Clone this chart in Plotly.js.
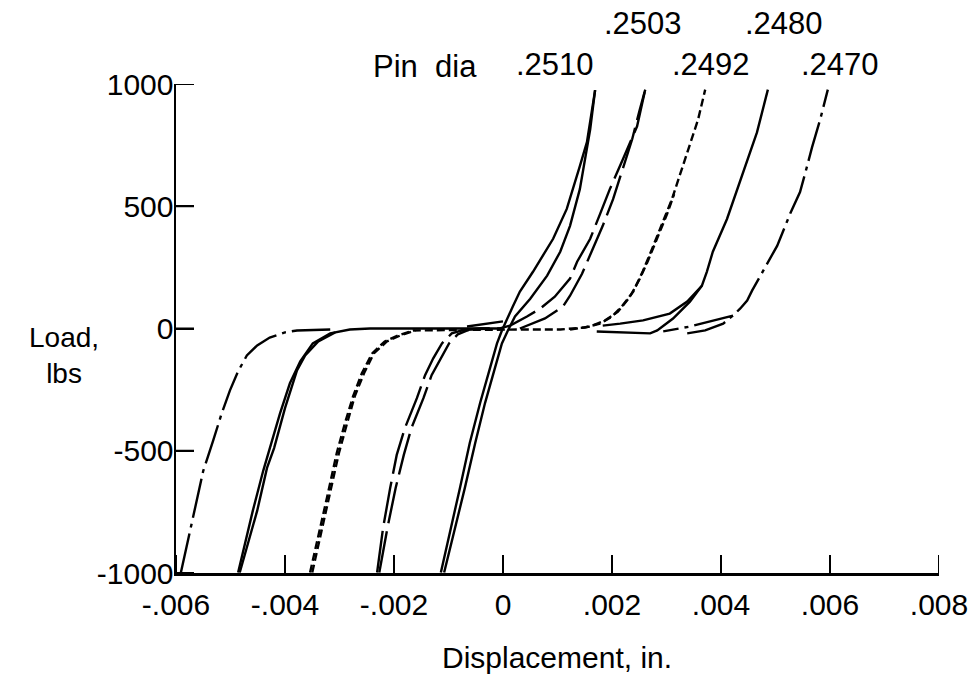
<!DOCTYPE html>
<html>
<head>
<meta charset="utf-8">
<script src="https://cdn.plot.ly/plotly-3.0.1.min.js"></script>
<style>
  html, body { margin: 0; padding: 0; background: #fff; }
  #chart { width: 975px; height: 675px; }
</style>
</head>
<body>
<div id="chart"></div>
<script>
// ---- Data (displacement in inches, load in lbs) ----
const pinDiameters = [".2510", ".2503", ".2492", ".2480", ".2470"];
const xTickVals = [-0.006, -0.004, -0.002, 0, 0.002, 0.004, 0.006, 0.008];
const xTickText = ["-.006", "-.004", "-.002", "0", ".002", ".004", ".006", ".008"];
const yTickVals = [-1000, -500, 0, 500, 1000];
const yTickText = ["-1000", "-500", "0", "500", "1000"];

// Pin .2510 (solid)
const p2510_a_x = [-0.00114,-0.00097,-0.00079,-0.00061,-0.00042,-0.00024,-0.00011,-0.00002,0.00007,0.00018,0.00031,0.00055,0.00092,0.00117,0.00141,0.00154,0.00169];
const p2510_a_y = [-998,-835,-652,-468,-305,-163,-61,-8,33,90,151,232,367,489,664,762,975];
const p2510_b_x = [-0.00108,-0.00090,-0.00070,-0.00051,-0.00033,-0.00015,-0.00002,0.00009,0.00022,0.00050,0.00081,0.00105,0.00123,0.00141,0.00150,0.00160,0.00169,null,-0.00066,0];
const p2510_b_y = [-998,-835,-652,-468,-305,-163,-61,-8,49,122,216,314,420,570,692,815,975,null,8,29];

// Pin .2503 (long dash)
const p2503_a_x = [-0.00231,-0.00220,-0.00207,-0.00195,-0.00180,-0.00158,-0.00143,-0.00128,-0.00112,-0.00094,-0.00070,-0.00042,-0.00006,0.00013,0.00044,0.00068,0.00095,0.00123,0.00136,0.00160,0.00178,0.00196,0.00220,0.00246,0.00261];
const p2503_a_y = [-998,-815,-652,-517,-407,-285,-191,-122,-61,-20,-4,0,0,12,49,81,130,204,273,367,468,570,692,827,977];
const p2503_b_x = [-0.00227,-0.00212,-0.00197,-0.00182,-0.00168,-0.00146,-0.00131,-0.00114,-0.00099,-0.00083,-0.00061,-0.00024,null,0.00031,0.00077,0.00110,0.00123,0.00145,0.00165,0.00183,0.00202,0.00224,0.00237,0.00251,0.00261];
const p2503_b_y = [-998,-815,-652,-517,-407,-285,-191,-122,-61,-24,-4,0,null,0,41,90,134,224,326,420,529,680,774,896,977];

// Pin .2492 (short dash)
const p2492_a_x = [-0.00354,-0.00339,-0.00323,-0.00305,-0.00290,-0.00275,-0.00259,-0.00240,-0.00217,-0.00193,-0.00165,0.00031,0.00105,0.00150,0.00178,0.00200,0.00218,0.00239,0.00257,0.00275,0.00294,0.00310,0.00325,0.00343,0.00358,0.00371];
const p2492_a_y = [-998,-855,-692,-509,-387,-277,-183,-102,-53,-29,-8,-4,-4,4,20,49,90,151,236,334,436,529,631,753,855,977];
const p2492_b_x = [-0.00350,-0.00336,-0.00319,-0.00301,-0.00286,-0.00272,-0.00255,-0.00237,-0.00213,-0.00189,-0.00161,null,0.00123,0.00160,0.00187,0.00211,0.00233,0.00251,0.00266,0.00283,0.00301,0.00314];
const p2492_b_y = [-998,-855,-692,-509,-387,-277,-183,-102,-53,-29,-8,null,-4,8,33,69,130,204,277,367,468,550];

// Pin .2480 (solid)
const p2480_a_x = [-0.00486,-0.00473,-0.00459,-0.00440,-0.00428,-0.00409,-0.00391,-0.00372,-0.00349,-0.00317,-0.00281,-0.00244,0,null,0.00172,0.00270,0.00283,0.00312,0.00343,0.00365,0.00374,0.00385,0.00411,0.00440,0.00466,0.00486];
const p2480_a_y = [-998,-876,-745,-582,-489,-346,-224,-134,-61,-20,-4,0,0,null,-12,-20,-8,41,110,175,232,314,448,639,802,977];
const p2480_b_x = [-0.00483,-0.00468,-0.00451,-0.00433,-0.00420,-0.00400,-0.00378,-0.00363,-0.00339,-0.00308,null,0.00365,0.00338,0.00306,0.00257,0.00215,0.00183];
const p2480_b_y = [-998,-876,-745,-570,-489,-326,-171,-110,-53,-16,null,175,110,61,33,20,12];

// Pin .2470 (dash-dot)
const p2470_a_x = [-0.00591,-0.00571,-0.00550,-0.00532,-0.00516,-0.00501,-0.00486,-0.00470,-0.00451,-0.00428,-0.00400,-0.00378,-0.00317,null,0.00338,0.00371,0.00404,0.00422,0.00435,0.00448,0.00457,0.00477,0.00503,0.00527,0.00545,0.00558,0.00567,0.00582,0.00596];
const p2470_a_y = [-998,-794,-582,-460,-346,-253,-175,-110,-69,-37,-16,-8,-4,null,-20,-8,20,53,81,114,155,232,338,470,558,664,741,855,977];
const p2470_b_x = [0.00422,0.00393,0.00343,0.00294];
const p2470_b_y = [53,37,8,-12];

// ---- Styles ----
const FONT = "Liberation Sans, Arial, Helvetica, sans-serif";
const LW = 2.4;
const TICKLEN = 18;
const dashStyles = {
  ".2510": "solid",
  ".2503": "42px,8px",
  ".2492": "8px,4px",
  ".2480": "solid",
  ".2470": "40px,6px,4px,6px"
};

function tr(x, y, name) {
  return {
    x: x, y: y, type: "scatter", mode: "lines", name: name,
    connectgaps: false, showlegend: false, hoverinfo: "skip",
    line: { color: "#000", width: LW, dash: dashStyles[name] }
  };
}

const traces = [
  tr(p2480_a_x, p2480_a_y, ".2480"), tr(p2480_b_x, p2480_b_y, ".2480"),
  tr(p2470_a_x, p2470_a_y, ".2470"), tr(p2470_b_x, p2470_b_y, ".2470"),
  tr(p2492_a_x, p2492_a_y, ".2492"), tr(p2492_b_x, p2492_b_y, ".2492"),
  tr(p2503_a_x, p2503_a_y, ".2503"), tr(p2503_b_x, p2503_b_y, ".2503"),
  tr(p2510_a_x, p2510_a_y, ".2510"), tr(p2510_b_x, p2510_b_y, ".2510")
];

const labelFont = { family: FONT, size: 31, color: "#000" };
function lab(text, x, y) {
  return { text: text, x: x, y: y, xref: "paper", yref: "paper", showarrow: false,
           xanchor: "center", yanchor: "middle", font: labelFont };
}

// Inward tick marks, placed at the axis tick values
const tickShapes = [];
xTickVals.forEach(function (v) {
  tickShapes.push({ type: "line", xref: "x", yref: "paper", ysizemode: "pixel", yanchor: 0,
    x0: v, x1: v, y0: 0, y1: TICKLEN, line: { color: "#000", width: 2 }, layer: "above" });
});
yTickVals.forEach(function (v) {
  tickShapes.push({ type: "line", xref: "paper", yref: "y", xsizemode: "pixel", xanchor: 0,
    x0: 0, x1: TICKLEN, y0: v, y1: v, line: { color: "#000", width: 2 }, layer: "above" });
});

const layout = {
  width: 975, height: 675,
  margin: { l: 176, r: 36, t: 84, b: 102 },
  paper_bgcolor: "#fff", plot_bgcolor: "#fff",
  font: { family: FONT, size: 30, color: "#000" },
  showlegend: false,
  xaxis: {
    range: [-0.006, 0.008], tickvals: xTickVals, ticktext: xTickText,
    tickmode: "array",
    ticks: "inside", ticklen: TICKLEN, tickwidth: 2, tickcolor: "#000",
    showline: true, linewidth: 2.5, linecolor: "#000",
    showgrid: false, zeroline: false, fixedrange: true,
    tickfont: { family: FONT, size: 30, color: "#000" },
    ticklabelstandoff: 3,
    automargin: false
  },
  yaxis: {
    range: [-1000, 1000], tickvals: yTickVals, ticktext: yTickText,
    tickmode: "array",
    ticks: "inside", ticklen: TICKLEN, tickwidth: 2, tickcolor: "#000",
    showline: true, linewidth: 2.5, linecolor: "#000",
    showgrid: false, zeroline: false, fixedrange: true,
    tickfont: { family: FONT, size: 30, color: "#000" },
    ticklabelstandoff: -6,
    automargin: false
  },
  shapes: tickShapes,
  annotations: [
    lab("Pin  dia", 0.3263, 1.0348),
    lab(pinDiameters[0], 0.4967, 1.0389),
    lab(pinDiameters[1], 0.6121, 1.1247),
    lab(pinDiameters[2], 0.7012, 1.0389),
    lab(pinDiameters[3], 0.7969, 1.1247),
    lab(pinDiameters[4], 0.8702, 1.0389),
    { text: "Displacement, in.", xref: "paper", yref: "paper", x: 0.499, y: -0.172,
      xanchor: "center", yanchor: "middle", showarrow: false,
      font: { family: FONT, size: 30, color: "#000" } },
    { text: "Load,<br>lbs", xref: "paper", yref: "paper", x: -0.147, y: 0.445,
      xanchor: "center", yanchor: "middle", showarrow: false, align: "center",
      font: { family: FONT, size: 28, color: "#000" } }
  ]
};

Plotly.newPlot("chart", traces, layout, { staticPlot: true, displayModeBar: false });
</script>
</body>
</html>
